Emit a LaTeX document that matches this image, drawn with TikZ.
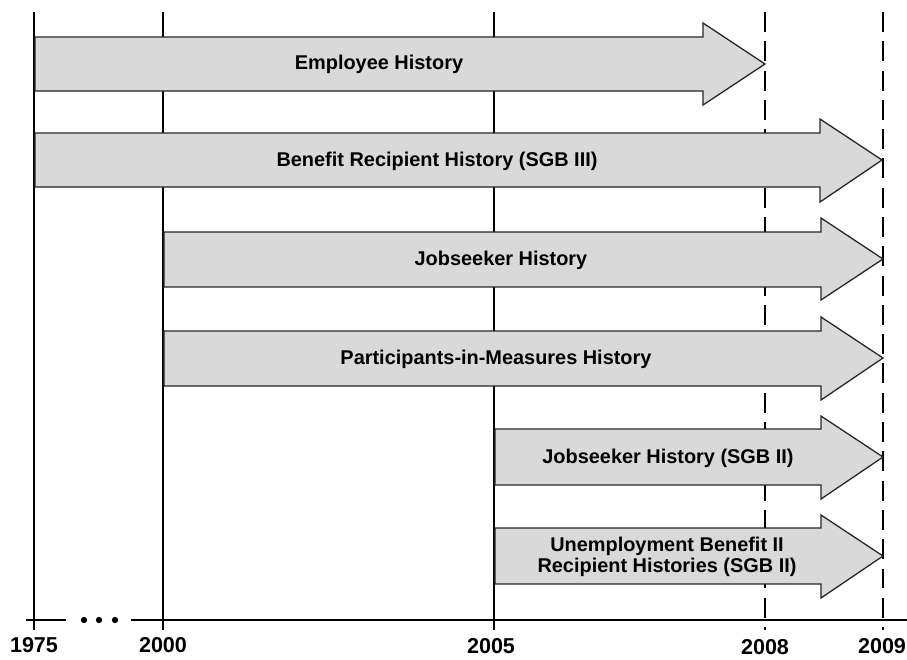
\documentclass[tikz,border=0pt]{standalone}
\usepackage{fontspec}
\setmainfont{Liberation Sans}
\usetikzlibrary{positioning}
\definecolor{histgray}{RGB}{217,217,217}
\tikzset{
  hist/.style={draw=black!85, line width=1.1pt, fill=histgray},
  histlabel/.style={font=\fontsize{17}{18}\selectfont\bfseries, align=center},
  yearline/.style={line width=2.5pt},
  yeardash/.style={line width=2.5pt, dash pattern=on 17pt off 8pt},
  yearlabel/.style={font=\fontsize{18.4}{20}\selectfont\bfseries, inner sep=0pt}
}

\begin{document}
\begin{tikzpicture}[x=0.03cm, y=-0.03cm]
            \useasboundingbox (0,0) rectangle (907,659);
            % time lines
            \coordinate (t1975) at (34,12);  \coordinate (b1975) at (34,630);
            \coordinate (t2000) at (163,12); \coordinate (b2000) at (163,630);
            \coordinate (t2005) at (494,12); \coordinate (b2005) at (494,630);
            \coordinate (t2008) at (765,12); \coordinate (b2008) at (765,630);
            \coordinate (t2009) at (883,12); \coordinate (b2009) at (883,630);
            \draw [yearline] (t1975) -- (b1975);
            \draw [yearline] (t2000) -- (b2000);
            \draw [yearline] (t2005) -- (b2005);
            \draw [yeardash] (t2008) -- (b2008);
            \draw [yeardash] (t2009) -- (b2009);
            % histories
            \draw [hist] (35,37) -- (703,37) -- (703,23) -- (765,64) -- (703,105) -- (703,91) -- (35,91) -- cycle;
            \node [histlabel] (emp) at (379,64) {Employee History};
            \draw [hist] (35,133) -- (820,133) -- (820,119) -- (882,160) -- (820,202) -- (820,187) -- (35,187) -- cycle;
            \node [histlabel] (ben) at (437,161) {Benefit Recipient History (SGB III)};
            \draw [hist] (164,232) -- (821,232) -- (821,218) -- (883,259) -- (821,300) -- (821,287) -- (164,287) -- cycle;
            \node [histlabel] (job) at (501,260) {Jobseeker History};
            \draw [hist] (164,331) -- (821,331) -- (821,317) -- (883,358) -- (821,400) -- (821,386) -- (164,386) -- cycle;
            \node [histlabel] (par) at (496,359) {Participants-in-Measures History};
            \draw [hist] (495,429) -- (821,429) -- (821,416) -- (883,457) -- (821,499) -- (821,485) -- (495,485) -- cycle;
            \node [histlabel] (jsg) at (668,458) {Jobseeker History (SGB II)};
            \draw [hist] (495,528) -- (821,528) -- (821,515) -- (883,556) -- (821,598) -- (821,584) -- (495,584) -- cycle;
            \node [histlabel] (ube) at (667,557) {Unemployment Benefit II\\Recipient Histories (SGB II)};
            % axis
            \coordinate (a0) at (26,620);  \coordinate (a1) at (66,620);
            \coordinate (a2) at (131,620); \coordinate (a3) at (907,620);
            \draw [yearline] (a0) -- (a1);
            \draw [yearline] (a2) -- (a3);
            \fill (84,620) circle [radius=2.7pt];
            \fill (99,620) circle [radius=2.7pt];
            \fill (115,620) circle [radius=2.7pt];
            \node [yearlabel] (y1975) at (34,645) {1975};
            \node [yearlabel] (y2000) at (163,645) {2000};
            \node [yearlabel] (y2005) at (491,646) {2005};
            \node [yearlabel] (y2008) at (765,647) {2008};
            \node [yearlabel] (y2009) at (882,646) {2009};
        \end{tikzpicture}
\end{document}
